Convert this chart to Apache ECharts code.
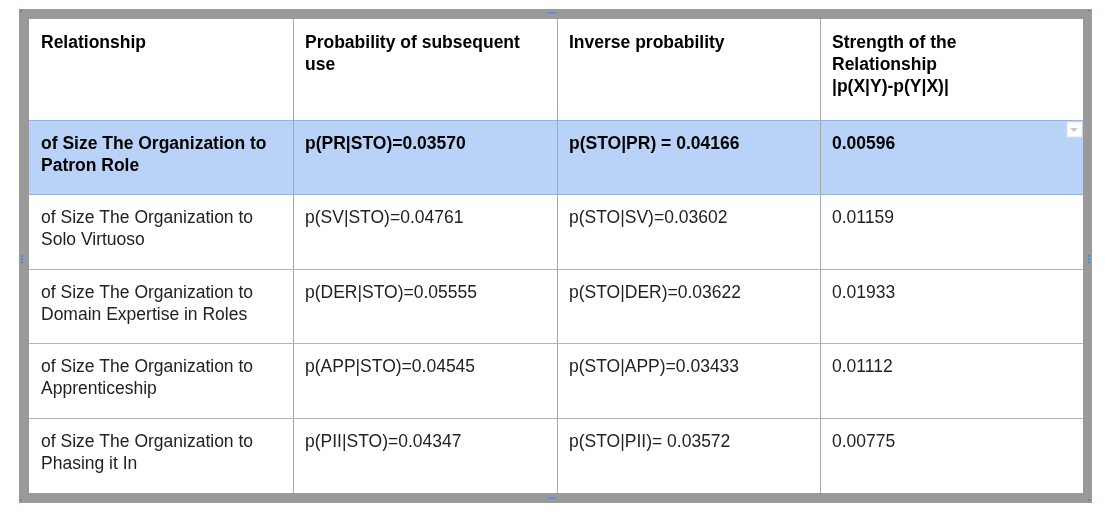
<!DOCTYPE html>
<html lang="en">
<head>
<meta charset="UTF-8">
<title>Relationship table</title>
<script src="https://cdn.jsdelivr.net/npm/echarts@6/dist/echarts.min.js"></script>
<style>
    html, body { margin: 0; height: 100%; background: #fff; }
    #chart { width: 1105px; height: 517px; }
</style>
</head>
<body>
<div id="chart"></div>
<script>
    // table content
    const headers = ['Relationship', 'Probability of subsequent\nuse', 'Inverse probability', 'Strength of the\nRelationship\n|p(X|Y)-p(Y|X)|'];
    const relationships = [
        'of Size The Organization to\nPatron Role',
        'of Size The Organization to\nSolo Virtuoso',
        'of Size The Organization to\nDomain Expertise in Roles',
        'of Size The Organization to\nApprenticeship',
        'of Size The Organization to\nPhasing it In'
    ];
    const forwardProb = ['p(PR|STO)=0.03570', 'p(SV|STO)=0.04761', 'p(DER|STO)=0.05555', 'p(APP|STO)=0.04545', 'p(PII|STO)=0.04347'];
    const inverseProb = ['p(STO|PR) = 0.04166', 'p(STO|SV)=0.03602', 'p(STO|DER)=0.03622', 'p(STO|APP)=0.03433', 'p(STO|PII)= 0.03572'];
    const strength = ['0.00596', '0.01159', '0.01933', '0.01112', '0.00775'];
    const highlightRow = 0;

    // layout
    const colX = [29, 293, 557, 820, 1083];
    const rowY = [19, 120, 194, 269, 343, 418, 493];

    const elements = [];
    // grey frame
    elements.push({ type: 'rect', shape: { x: 19, y: 9, width: 1073, height: 494 }, style: { fill: '#9a9a9a' } });
    elements.push({ type: 'rect', shape: { x: 29, y: 19, width: 1054, height: 474 }, style: { fill: '#ffffff' } });

    const rows = [headers].concat(relationships.map((r, i) => [r, forwardProb[i], inverseProb[i], strength[i]]));
    rows.forEach((cells, r) => {
        const y0 = rowY[r], y1 = rowY[r + 1];
        const hl = r - 1 === highlightRow;
        if (hl) {
            elements.push({ type: 'rect', shape: { x: colX[0], y: y0, width: colX[4] - colX[0], height: y1 - y0 }, style: { fill: '#b9d3f8' } });
        }
        cells.forEach((txt, c) => {
            elements.push({
                type: 'text', x: colX[c] + 12, y: y0 + 13,
                style: {
                    text: txt, fill: r === 0 || hl ? '#000' : '#222',
                    font: (r === 0 || hl ? 'bold ' : '') + '17.5px "Liberation Sans", Arial, sans-serif',
                    lineHeight: 22, textVerticalAlign: 'top'
                }
            });
        });
    });
    // grid lines
    rowY.slice(1, -1).forEach((y, i) => {
        const blue = i === 0 || i === 1;
        elements.push({ type: 'line', shape: { x1: colX[0], y1: y + 0.5, x2: colX[4], y2: y + 0.5 }, style: { stroke: blue ? '#94b3e0' : '#b5b5b5', lineWidth: 1 } });
    });
    colX.slice(1, -1).forEach(x => {
        elements.push({ type: 'line', shape: { x1: x + 0.5, y1: rowY[0], x2: x + 0.5, y2: rowY[6] }, style: { stroke: '#a8a8a8', lineWidth: 1 } });
    });
    // dropdown marker in highlighted cell
    elements.push({ type: 'rect', shape: { x: 1067, y: 122, width: 15, height: 15 }, style: { fill: '#fff', stroke: '#e0e0e0' } });
    elements.push({ type: 'polygon', shape: { points: [[1070, 128], [1078, 128], [1074, 132]] }, style: { fill: '#c8c8c8' } });
    // blue handles
    [[20, 10], [1088, 10], [20, 499], [1088, 499]].forEach(p => {
        elements.push({ type: 'rect', shape: { x: p[0], y: p[1], width: 2, height: 2 }, style: { fill: '#4a86e8' } });
    });
    [[548, 12], [548, 497], [21, 255], [1088, 255]].forEach((p, i) => {
        for (let k = 0; k < 3; k++) {
            const dx = i < 2 ? k * 3 : 0, dy = i < 2 ? 0 : k * 3;
            elements.push({ type: 'rect', shape: { x: p[0] + dx, y: p[1] + dy, width: 2, height: 2 }, style: { fill: '#4a86e8' } });
        }
    });

    const chart = echarts.init(document.getElementById('chart'));
    chart.setOption({ animation: false, graphic: { elements: elements } });
</script>
</body>
</html>
